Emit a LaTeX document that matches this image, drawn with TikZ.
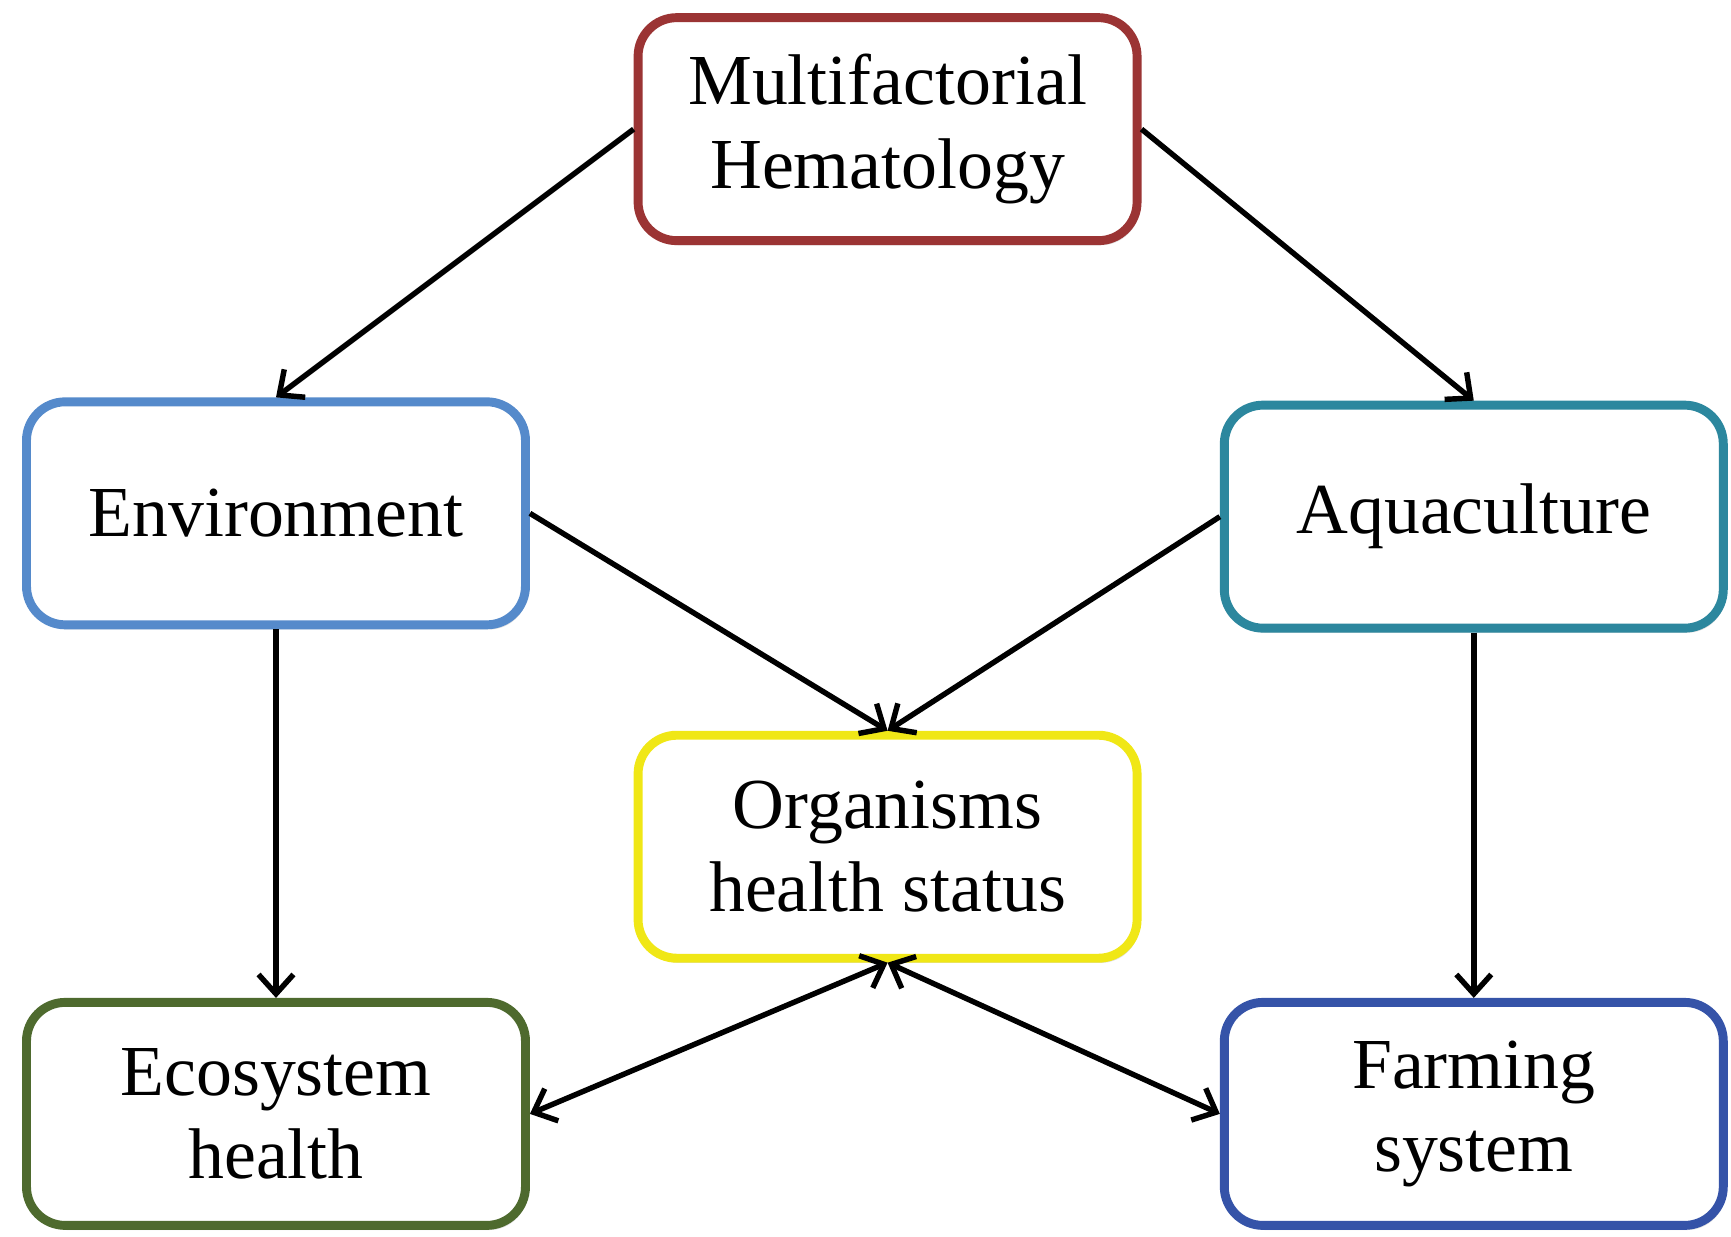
\documentclass[tikz,border=0pt]{standalone}
\usepackage{fontspec}
\setmainfont{Liberation Serif}
\usetikzlibrary{arrows.meta,shadows}

\definecolor{boxred}{RGB}{155,52,52}
\definecolor{boxblue}{RGB}{85,138,203}
\definecolor{boxteal}{RGB}{44,135,158}
\definecolor{boxyellow}{RGB}{240,231,22}
\definecolor{boxgreen}{RGB}{78,106,46}
\definecolor{boxnavy}{RGB}{53,83,168}

\begin{document}
\begin{tikzpicture}[
    factor/.style={draw, line width=2.3pt, rounded corners=0.35cm, fill=white,
      minimum width=4.52cm, minimum height=2.02cm, align=center,
      font=\fontsize{18.5}{21.5}\selectfont,
      drop shadow={opacity=0.25, shadow xshift=0.6pt, shadow yshift=-1.2pt}},
    link/.style={line width=1.4pt, -{Straight Barb[length=5pt, width=9pt, line width=1.4pt]}},
    both/.style={line width=1.4pt, {Straight Barb[length=5pt, width=9pt, line width=1.4pt]}-{Straight Barb[length=5pt, width=9pt, line width=1.4pt]}}
  ]

    \useasboundingbox (0,0) rectangle (15.68,11.2);

    % 上段
    \node [factor, draw=boxred] (hemato) at (8.04,10.03) {Multifactorial\\Hematology};

    % 中段
    \node [factor, draw=boxblue] (env) at (2.50,6.55) {Environment};
    \node [factor, draw=boxteal] (aqua) at (13.35,6.52) {Aquaculture};
    \node [factor, draw=boxyellow] (org) at (8.04,3.53) {Organisms\\health status};

    % 下段
    \node [factor, draw=boxgreen] (eco) at (2.50,1.11) {Ecosystem\\health};
    \node [factor, draw=boxnavy] (farm) at (13.35,1.11) {Farming\\system};

    % 矢印
    \draw [link] (hemato.west) -- (env.north);
    \draw [link] (hemato.east) -- (aqua.north);
    \draw [link] (env.east) -- (org.north);
    \draw [link] (aqua.west) -- (org.north);
    \draw [link] (env.south) -- (eco.north);
    \draw [link] (aqua.south) -- (farm.north);

    % 双方向
    \draw [both] (eco.east) -- (org.south);
    \draw [both] (org.south) -- (farm.west);

\end{tikzpicture}
\end{document}
